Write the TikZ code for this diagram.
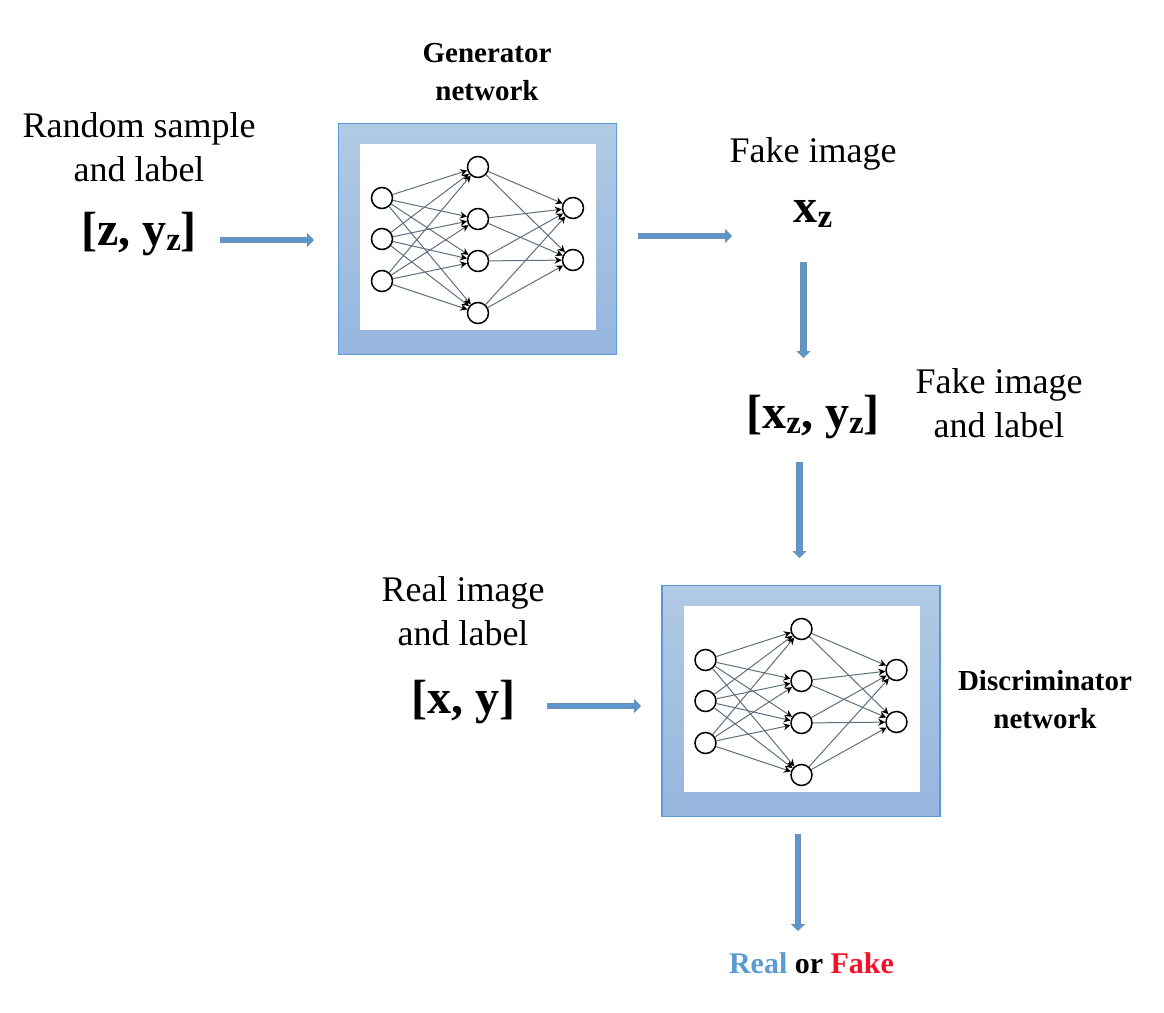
\documentclass[tikz,border=0pt]{standalone}
\usepackage{fontspec}
\setmainfont{Liberation Serif}
\usetikzlibrary{arrows.meta}
\definecolor{flowblue}{HTML}{5B96CC}
\definecolor{flowedge}{HTML}{6E8FAF}
\definecolor{framelight}{HTML}{B1CAE4}
\definecolor{framedark}{HTML}{96B6DE}
\definecolor{frameline}{HTML}{5B9BD5}
\definecolor{edgegray}{HTML}{5F6F80}
\definecolor{realblue}{HTML}{5B9BD5}
\definecolor{fakered}{HTML}{F5102A}
\tikzset{
  x=1pt,y=-1pt,
  netframe/.style={draw=frameline,line width=1.8pt,top color=framelight,bottom color=framedark,minimum width=278pt,minimum height=231pt,inner sep=0pt},
  netpanel/.style={fill=white,minimum width=236pt,minimum height=186pt,inner sep=0pt},
  neuron/.style={circle,draw=black,fill=white,line width=1.5pt,minimum size=21pt,inner sep=0pt},
  synapse/.style={draw=edgegray,line width=1pt,-{Stealth[length=7pt,width=7pt,black]}},
  flowback/.style={draw=flowedge,line width=6.5pt,-{Triangle[length=7pt,width=14pt,flowedge]}},
  flow/.style={draw=flowblue,line width=4.8pt,shorten >=1.4pt,shorten <=.7pt,-{Triangle[length=5.2pt,width=11pt,flowblue]}},
  plainlabel/.style={inner sep=0pt,align=center,font=\fontsize{36}{44}\selectfont},
  boldlabel/.style={inner sep=0pt,align=center,font=\fontsize{29}{38}\selectfont\bfseries},
  formula/.style={inner sep=0pt,anchor=base,font=\fontsize{48}{50}\selectfont\bfseries},
}
\newcommand{\subz}{\raisebox{-5pt}{\fontsize{33}{34}\selectfont z}}
\newcommand{\network}[3]{%
  \node[netframe] (#1frame) at (#2+477.5,#3+239) {};
  \node[netpanel] (#1panel) at (#2+478,#3+237) {};
  \foreach \n/\yy in {1/198,2/239,3/281}
    \node[neuron] (#1i\n) at (#2+382,#3+\yy) {};
  \foreach \n/\yy in {1/167,2/219,3/261,4/313}
    \node[neuron] (#1h\n) at (#2+478,#3+\yy) {};
  \foreach \n/\yy in {1/208,2/260}
    \node[neuron] (#1o\n) at (#2+573,#3+\yy) {};
  \foreach \a in {1,2,3}
    \foreach \b in {1,2,3,4}
      \draw[synapse] (#1i\a) -- (#1h\b);
  \foreach \a in {1,2,3,4}
    \foreach \b in {1,2}
      \draw[synapse] (#1h\a) -- (#1o\b);
}
\newcommand{\blockarrow}[2]{%
  \draw[flowback] (#1) -- (#2);
  \draw[flow] (#1) -- (#2);
}
\begin{document}
\begin{tikzpicture}
\useasboundingbox (0,0) rectangle (1164,1012);
\network{g}{0}{0}
\network{d}{323.5}{462}

\node[boldlabel] (gtitle) at (487,72) {Generator\\network};
\node[boldlabel] (dtitle) at (1045,700) {Discriminator\\network};

\node[plainlabel] (randlabel) at (139,147) {Random sample\\and label};
\node[formula] (zform) at (139,245) {[z, y\subz]};
\node[plainlabel,anchor=base] (fakeimg) at (813,162) {Fake image};
\node[formula] (xz) at (813,222) {x\subz};
\node[formula] (xzyz) at (813,428) {[x\subz, y\subz]};
\node[plainlabel] (fakelabel) at (999,403) {Fake image\\and label};
\node[plainlabel] (reallabel) at (463,611) {Real image\\and label};
\node[formula] (xy) at (463,713) {[x, y]};
\node[inner sep=0pt,anchor=base,font=\fontsize{30}{36}\selectfont\bfseries] (verdict) at (811.5,973)
  {\textcolor{realblue}{Real} or \textcolor{fakered}{Fake}};

\coordinate (a1s) at (220,240);   \coordinate (a1e) at (314,240);
\coordinate (a2s) at (638,236);   \coordinate (a2e) at (732,236);
\coordinate (a3s) at (803.5,262); \coordinate (a3e) at (803.5,358);
\coordinate (a4s) at (799.5,462); \coordinate (a4e) at (799.5,558);
\coordinate (a5s) at (547,706);   \coordinate (a5e) at (641,706);
\coordinate (a6s) at (798,834);   \coordinate (a6e) at (798,931);
\blockarrow{a1s}{a1e}
\blockarrow{a2s}{a2e}
\blockarrow{a3s}{a3e}
\blockarrow{a4s}{a4e}
\blockarrow{a5s}{a5e}
\blockarrow{a6s}{a6e}
\end{tikzpicture}
\end{document}
